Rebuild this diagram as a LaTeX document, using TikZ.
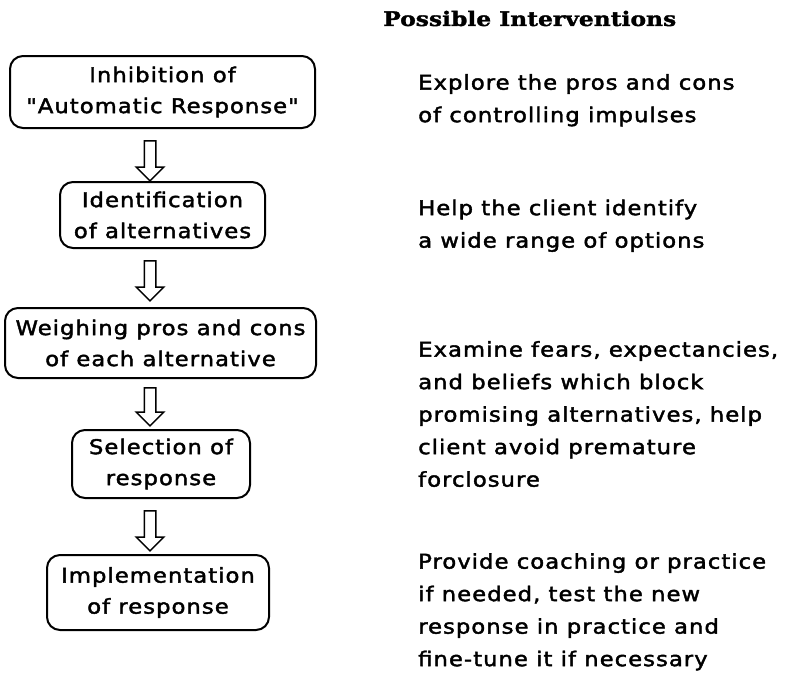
\documentclass[tikz,border=0pt]{standalone}
\usepackage{fontspec}
\setmainfont{DejaVu Sans}
\newfontfamily\bodyfont[FakeStretch=1.12, LetterSpace=5, FakeBold=2]{DejaVu Sans}
\newfontfamily\headfont[FakeStretch=1.17, FakeBold=1.5]{DejaVu Serif Bold}
\usetikzlibrary{shapes.arrows}
\begin{document}
\begin{tikzpicture}[x=1pt,y=-1pt,
  stagebox/.style={draw, line width=2pt, rounded corners=13pt, align=center,
    inner sep=0pt, font={\bodyfont\fontsize{20.3pt}{31pt}\selectfont}},
  note/.style={anchor=north west, align=left, inner sep=0pt,
    font={\bodyfont\fontsize{20.3pt}{32.5pt}\selectfont}},
  downarrow/.style={single arrow, draw, line width=1.5pt, inner xsep=0pt,
    inner ysep=5pt, minimum height=40pt, single arrow head extend=8pt,
    single arrow head indent=0pt, rotate=-90}
]
\useasboundingbox (0,0) rectangle (786,673);

% heading of the right column
\node[anchor=west, inner sep=0pt, font={\headfont\fontsize{20pt}{21pt}\selectfont}]
  (head) at (383,18.5) {Possible Interventions};

% stages of the process
\node[stagebox, minimum width=305pt, minimum height=72pt] (s1) at (162.5,92)
  {Inhibition of\\"Automatic Response"};
\node[stagebox, minimum width=205pt, minimum height=66pt] (s2) at (162.5,215)
  {Identification\\of alternatives};
\node[stagebox, minimum width=311pt, minimum height=70pt] (s3) at (160.5,343)
  {Weighing pros and cons\\of each alternative};
\node[stagebox, minimum width=178pt, minimum height=68pt] (s4) at (161,464)
  {Selection of\\response};
\node[stagebox, minimum width=222pt, minimum height=75pt] (s5) at (158,592.5)
  {Implementation\\of response};

% hollow arrows between the stages
\node[downarrow] (a1) at (150,158) {};
\node[downarrow] (a2) at (150,278) {};
\node[downarrow, minimum height=38pt] (a3) at (150,404) {};
\node[downarrow] (a4) at (150,528) {};

% interventions
\node[note] (n1) at (418,74)
  {Explore the pros and cons\\of controlling impulses};
\node[note] (n2) at (418,199.5)
  {Help the client identify\\a wide range of options};
\node[note] (n3) at (418,341)
  {Examine fears, expectancies,\\and beliefs which block\\promising alternatives, help\\client avoid premature\\forclosure};
\node[note] (n4) at (418,553)
  {Provide coaching or practice\\if needed, test the new\\response in practice and\\fine-tune it if necessary};
\end{tikzpicture}
\end{document}
